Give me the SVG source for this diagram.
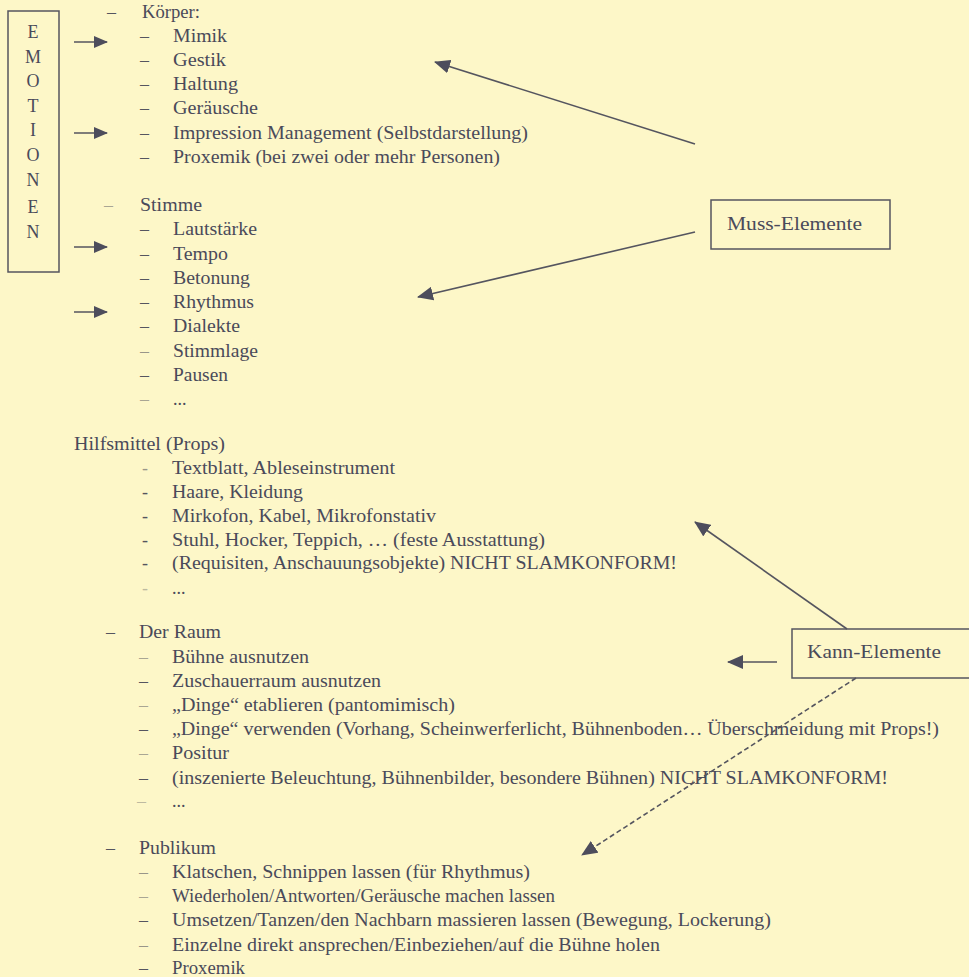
<svg xmlns="http://www.w3.org/2000/svg" width="969" height="977" viewBox="0 0 969 977">
<style>
.t{font-family:"Liberation Serif","Times New Roman",serif;font-size:18px;fill:#4a4a5a}
.d{font-family:"Liberation Serif","Times New Roman",serif;font-size:18px;fill:#55555f}
.box{fill:none;stroke:#55555f;stroke-width:1.5}
.c{stroke:#55555f;stroke-width:1.6;fill:none}
.dash{stroke-dasharray:5 3}
</style>
<defs>
<marker id="ahL" viewBox="0 0 14 12" refX="13" refY="6" markerWidth="14" markerHeight="12" markerUnits="userSpaceOnUse" orient="auto"><path d="M0,0 L14,6 L0,12 z" fill="#4d4d5c"/></marker>
<marker id="ahM" viewBox="0 0 16 14" refX="15" refY="7" markerWidth="16" markerHeight="14" markerUnits="userSpaceOnUse" orient="auto"><path d="M0,0 L16,7 L0,14 z" fill="#4d4d5c"/></marker>
</defs>
<rect x="0" y="0" width="969" height="977" fill="#fdf7c8"/>

<g id="emotionen">
<rect class="box" x="8" y="11" width="51" height="261"/>
<g class="t" text-anchor="middle">
<text x="33" y="38">E</text>
<text x="33" y="63">M</text>
<text x="33" y="87">O</text>
<text x="33" y="112">T</text>
<text x="33" y="136">I</text>
<text x="33" y="161">O</text>
<text x="33" y="186">N</text>
<text x="33" y="213">E</text>
<text x="33" y="238">N</text>
</g>
</g>

<g id="koerper">
<text class="d" x="107" y="18">–</text><text class="t" x="142" y="18" textLength="58" lengthAdjust="spacingAndGlyphs">Körper:</text>
<text class="d" x="140" y="42">–</text><text class="t" x="173" y="42" textLength="54" lengthAdjust="spacingAndGlyphs">Mimik</text>
<text class="d" x="140" y="66">–</text><text class="t" x="173" y="66" textLength="53" lengthAdjust="spacingAndGlyphs">Gestik</text>
<text class="d" x="140" y="90">–</text><text class="t" x="173" y="90" textLength="65" lengthAdjust="spacingAndGlyphs">Haltung</text>
<text class="d" x="140" y="114">–</text><text class="t" x="173" y="114" textLength="85" lengthAdjust="spacingAndGlyphs">Geräusche</text>
<text class="d" x="140" y="139">–</text><text class="t" x="173" y="139" textLength="355" lengthAdjust="spacingAndGlyphs">Impression Management (Selbstdarstellung)</text>
<text class="d" x="140" y="163">–</text><text class="t" x="173" y="163" textLength="327" lengthAdjust="spacingAndGlyphs">Proxemik (bei zwei oder mehr Personen)</text>
</g>

<g id="stimme">
<text class="d" x="104" y="211" fill-opacity="0.5">–</text><text class="t" x="140" y="211" textLength="62" lengthAdjust="spacingAndGlyphs">Stimme</text>
<text class="d" x="140" y="235">–</text><text class="t" x="173" y="235" textLength="84" lengthAdjust="spacingAndGlyphs">Lautstärke</text>
<text class="d" x="140" y="260">–</text><text class="t" x="173" y="260" textLength="55" lengthAdjust="spacingAndGlyphs">Tempo</text>
<text class="d" x="140" y="284">–</text><text class="t" x="173" y="284" textLength="77" lengthAdjust="spacingAndGlyphs">Betonung</text>
<text class="d" x="140" y="308">–</text><text class="t" x="173" y="308" textLength="81" lengthAdjust="spacingAndGlyphs">Rhythmus</text>
<text class="d" x="140" y="332">–</text><text class="t" x="173" y="332" textLength="67" lengthAdjust="spacingAndGlyphs">Dialekte</text>
<text class="d" x="140" y="357" fill-opacity="0.6">–</text><text class="t" x="173" y="357" textLength="85" lengthAdjust="spacingAndGlyphs">Stimmlage</text>
<text class="d" x="140" y="381">–</text><text class="t" x="173" y="381" textLength="55" lengthAdjust="spacingAndGlyphs">Pausen</text>
<text class="d" x="140" y="405" fill-opacity="0.5">–</text><text class="t" x="173" y="405">...</text>
</g>

<g id="hilfsmittel">
<text class="t" x="74" y="450" textLength="151" lengthAdjust="spacingAndGlyphs">Hilfsmittel (Props)</text>
<text class="d" x="142" y="474" fill-opacity="0.6">-</text><text class="t" x="172" y="474" textLength="223" lengthAdjust="spacingAndGlyphs">Textblatt, Ableseinstrument</text>
<text class="d" x="142" y="498">-</text><text class="t" x="172" y="498" textLength="131" lengthAdjust="spacingAndGlyphs">Haare, Kleidung</text>
<text class="d" x="142" y="522">-</text><text class="t" x="172" y="522" textLength="264" lengthAdjust="spacingAndGlyphs">Mirkofon, Kabel, Mikrofonstativ</text>
<text class="d" x="142" y="546">-</text><text class="t" x="172" y="546" textLength="373" lengthAdjust="spacingAndGlyphs">Stuhl, Hocker, Teppich, … (feste Ausstattung)</text>
<text class="d" x="142" y="569">-</text><text class="t" x="172" y="569" textLength="505" lengthAdjust="spacingAndGlyphs">(Requisiten, Anschauungsobjekte) NICHT SLAMKONFORM!</text>
<text class="d" x="142" y="594" fill-opacity="0.4">-</text><text class="t" x="172" y="594">...</text>
</g>

<g id="raum">
<text class="d" x="106" y="638">–</text><text class="t" x="139" y="638" textLength="82" lengthAdjust="spacingAndGlyphs">Der Raum</text>
<text class="d" x="139" y="663" fill-opacity="0.5">–</text><text class="t" x="172" y="663" textLength="137" lengthAdjust="spacingAndGlyphs">Bühne ausnutzen</text>
<text class="d" x="139" y="687">–</text><text class="t" x="172" y="687" textLength="209" lengthAdjust="spacingAndGlyphs">Zuschauerraum ausnutzen</text>
<text class="d" x="139" y="711" fill-opacity="0.5">–</text><text class="t" x="172" y="711" textLength="283" lengthAdjust="spacingAndGlyphs">„Dinge“ etablieren (pantomimisch)</text>
<text class="d" x="139" y="735">–</text><text class="t" x="172" y="735" textLength="767" lengthAdjust="spacingAndGlyphs">„Dinge“ verwenden (Vorhang, Scheinwerferlicht, Bühnenboden… Überschmeidung mit Props!)</text>
<text class="d" x="139" y="759" fill-opacity="0.5">–</text><text class="t" x="172" y="759" textLength="57" lengthAdjust="spacingAndGlyphs">Positur</text>
<text class="d" x="139" y="784">–</text><text class="t" x="172" y="784" textLength="716" lengthAdjust="spacingAndGlyphs">(inszenierte Beleuchtung, Bühnenbilder, besondere Bühnen) NICHT SLAMKONFORM!</text>
<text class="d" x="137" y="807" fill-opacity="0.4">–</text><text class="t" x="172" y="807">...</text>
</g>

<g id="publikum">
<text class="d" x="106" y="854">–</text><text class="t" x="139" y="854" textLength="77" lengthAdjust="spacingAndGlyphs">Publikum</text>
<text class="d" x="139" y="878" fill-opacity="0.6">–</text><text class="t" x="172" y="878" textLength="358" lengthAdjust="spacingAndGlyphs">Klatschen, Schnippen lassen (für Rhythmus)</text>
<text class="d" x="139" y="902" fill-opacity="0.5">–</text><text class="t" x="172" y="902" textLength="383" lengthAdjust="spacingAndGlyphs">Wiederholen/Antworten/Geräusche machen lassen</text>
<text class="d" x="139" y="926">–</text><text class="t" x="172" y="926" textLength="599" lengthAdjust="spacingAndGlyphs">Umsetzen/Tanzen/den Nachbarn massieren lassen (Bewegung, Lockerung)</text>
<text class="d" x="139" y="951" fill-opacity="0.6">–</text><text class="t" x="172" y="951" textLength="488" lengthAdjust="spacingAndGlyphs">Einzelne direkt ansprechen/Einbeziehen/auf die Bühne holen</text>
<text class="d" x="139" y="974">–</text><text class="t" x="172" y="974" textLength="73" lengthAdjust="spacingAndGlyphs">Proxemik</text>
</g>

<g id="muss">
<rect class="box" x="711" y="200" width="179" height="49"/>
<text class="t" x="727" y="230" textLength="135" lengthAdjust="spacingAndGlyphs">Muss-Elemente</text>
</g>

<g id="kann">
<rect class="box" x="792" y="629" width="185" height="49"/>
<text class="t" x="807" y="658" textLength="134" lengthAdjust="spacingAndGlyphs">Kann-Elemente</text>
</g>

<g id="connectors">
<line class="c" x1="74" y1="42" x2="107" y2="42" marker-end="url(#ahL)"/>
<line class="c" x1="74" y1="133" x2="107" y2="133" marker-end="url(#ahL)"/>
<line class="c" x1="74" y1="247" x2="107" y2="247" marker-end="url(#ahL)"/>
<line class="c" x1="74" y1="312" x2="107" y2="312" marker-end="url(#ahL)"/>
<line class="c" x1="695" y1="144" x2="435" y2="62" marker-end="url(#ahM)"/>
<line class="c" x1="695" y1="232" x2="418" y2="297" marker-end="url(#ahM)"/>
<line class="c" x1="847" y1="629" x2="695" y2="522" marker-end="url(#ahM)"/>
<line class="c" x1="777" y1="662" x2="728" y2="662" marker-end="url(#ahM)"/>
<line class="c dash" x1="856" y1="678" x2="582" y2="855" marker-end="url(#ahM)"/>
</g>
</svg>
